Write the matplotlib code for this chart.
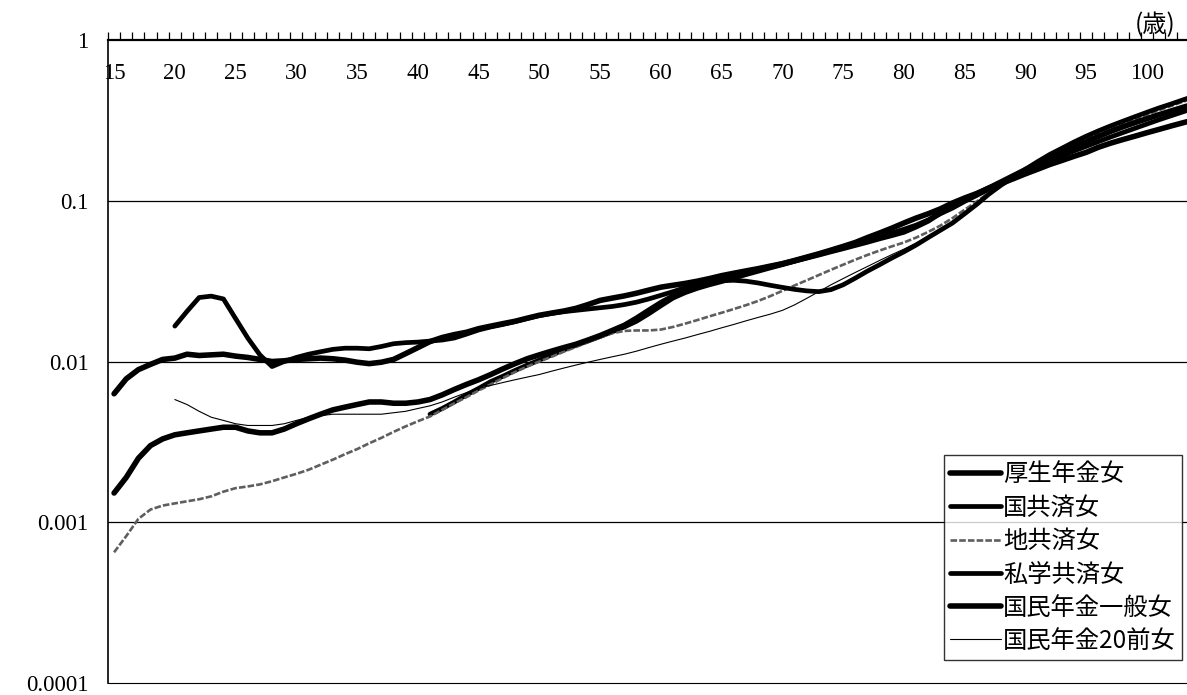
import numpy as np
import matplotlib
matplotlib.use("Agg")
import matplotlib.pyplot as plt
from matplotlib.ticker import FixedLocator, NullFormatter

plt.rcParams['font.family'] = ['Liberation Serif', 'Noto Sans CJK JP']

ages = list(range(15, 105))

# 厚生年金女 (15-104)
kosei = [.0063, .0078, .0089, .0096, .0103, .0105, .0111, .0109, .0110, .0111,
         .0108, .0106, .0103, .0100, .0101, .0103, .0104, .0105, .0104, .0102,
         .0099, .0097, .0099, .0103, .0112, .0122, .0133, .0141, .0147, .0152,
         .0160, .0166, .0172, .0178, .0186, .0194, .0200, .0206, .0214, .0226,
         .0240, .0248, .0256, .0266, .0278, .0290, .0298, .0306, .0316, .0328,
         .0342, .0354, .0366, .0378, .0392, .0406, .0425, .0446, .0468, .0493,
         .0520, .0550, .0590, .0630, .0675, .0727, .0780, .0830, .0890, .0968,
         .104, .111, .120, .128, .137, .147, .157, .168, .178, .189,
         .200, .215, .228, .240, .252, .265, .278, .292, .306, .320]

# 国共済女 (41-104)
kokukyo = [None] * 26 + [
         .0047, .0051, .0056, .0062,
         .0068, .0075, .0081, .0088, .0095, .0102, .0110, .0118, .0126, .0134,
         .0143, .0153, .0164, .0178, .0198, .0222, .0248, .0268, .0285, .0300,
         .0314, .0330, .0347, .0364, .0382, .0400, .0420, .0441, .0463, .0486,
         .0510, .0537, .0565, .0595, .0630, .0665, .0705, .0760, .0830, .0900,
         .099, .108, .118, .129, .140, .152, .164, .177, .190, .204,
         .218, .233, .249, .265, .282, .300, .319, .338, .358, .379]

# 地共済女 (15-104)
chikyo = [.00065, .00082, .00105, .00120, .00127, .00131, .00135, .00139, .00145, .00155,
          .00163, .00167, .00172, .00180, .00190, .00200, .00212, .00228, .00245, .00265,
          .00285, .00310, .00335, .00365, .00395, .00425, .00455, .0050, .0055, .0060,
          .0066, .0072, .0079, .0086, .0093, .0100, .0107, .0115, .0123, .0132,
          .0141, .0150, .0155, .0156, .0156, .0158, .0164, .0172, .0181, .0191,
          .0201, .0212, .0224, .0238, .0255, .0275, .0297, .0320, .0345, .0372,
          .0400, .0430, .0460, .0490, .0520, .0550, .0590, .0640, .0700, .0780,
          .088, .099, .112, .125, .139, .154, .170, .187, .204, .222,
          .241, .260, .280, .300, .321, .343, .366, .389, .414, .439]

# 私学共済女 (20-104)
shigaku = [None] * 5 + [
           .0166, .0205, .0250, .0255, .0245,
           .0185, .0140, .0110, .0093, .0100, .0106, .0111, .0115, .0119, .0121,
           .0121, .0120, .0124, .0129, .0131, .0132, .0134, .0136, .0140, .0148,
           .0157, .0164, .0170, .0177, .0185, .0193, .0199, .0204, .0208, .0212,
           .0216, .0220, .0226, .0234, .0245, .0258, .0272, .0288, .0302, .0312,
           .0318, .0320, .0316, .0308, .0298, .0289, .0281, .0275, .0272, .0280,
           .0300, .0330, .0365, .0400, .0440, .0481, .0530, .0590, .0655, .0727,
           .083, .095, .110, .125, .140, .157, .175, .194, .212, .232,
           .252, .272, .292, .312, .333, .355, .378, .400, .425, .450]

# 国民年金一般女 (15-104)
kokumin = [.00152, .0019, .0025, .0030, .0033, .0035, .0036, .0037, .0038, .0039,
           .0039, .0037, .0036, .0036, .0038, .0041, .0044, .0047, .0050, .0052,
           .0054, .0056, .0056, .0055, .0055, .0056, .0058, .0062, .0067, .0072,
           .0077, .0083, .0090, .0097, .0104, .0110, .0116, .0122, .0128, .0136,
           .0145, .0156, .0168, .0186, .0208, .0232, .0255, .0275, .0292, .0308,
           .0324, .0340, .0356, .0372, .0388, .0405, .0423, .0442, .0462, .0484,
           .0506, .0530, .0555, .0583, .0610, .0640, .0690, .0750, .0840, .0930,
           .101, .110, .120, .131, .143, .156, .170, .185, .200, .216,
           .233, .251, .270, .288, .306, .324, .343, .362, .382, .402]

# 国民年金20前女 (20-104)
kokumin20 = [None] * 5 + [
             .0058, .0054, .0049, .0045, .0043,
             .0041, .0040, .0040, .0040, .0041, .0043, .0045, .0046, .0047, .0047,
             .0047, .0047, .0047, .0048, .0049, .0051, .0053, .0056, .0060, .0064,
             .0068, .0071, .0074, .0077, .0080, .0083, .0087, .0091, .0095, .0099,
             .0103, .0107, .0111, .0116, .0122, .0128, .0134, .0140, .0147, .0154,
             .0162, .0170, .0179, .0188, .0197, .0208, .0225, .0247, .0272, .0300,
             .0328, .0358, .0390, .0425, .0462, .0500, .0545, .0600, .0660, .0740,
             .084, .096, .110, .124, .139, .155, .172, .190, .208, .227,
             .247, .267, .288, .309, .331, .354, .378, .402, .428, .454]

series = [
    ("厚生年金女", kosei, "black", 4.0, '-'),
    ("国共済女", kokukyo, "black", 3.4, '-'),
    ("地共済女", chikyo, "#5e5e5e", 1.9, (0, (2.5, 0.8))),
    ("私学共済女", shigaku, "black", 3.4, '-'),
    ("国民年金一般女", kokumin, "black", 4.0, '-'),
    ("国民年金20前女", kokumin20, "black", 0.8, '-'),
]

fig = plt.figure(figsize=(11.87, 6.95), dpi=100)
ax = fig.add_axes([108 / 1187, 1 - 683 / 695, (1187 - 108) / 1187, (683 - 40) / 695])

for name, vals, color, lw, ls in series:
    y = np.array([np.nan if v is None else v for v in vals], dtype=float)
    ax.plot(ages, y, color=color, lw=lw, ls=ls, label=name, solid_capstyle='round',
            solid_joinstyle='round')

ax.set_yscale('log')
ax.set_ylim(0.0001, 1)
ax.set_xlim(14.5, 103.3)

# horizontal rules at each decade
for v in [0.1, 0.01, 0.001]:
    ax.axhline(v, color='black', lw=0.9, zorder=0)

ax.set_yticks([1, 0.1, 0.01, 0.001, 0.0001])
ax.set_yticklabels(['1', '0.1', '0.01', '0.001', '0.0001'], fontsize=16.5)
ax.yaxis.set_minor_locator(FixedLocator([]))
ax.tick_params(axis='y', length=0, pad=14)

# category boundaries as ticks along the top edge
ax.xaxis.set_major_locator(FixedLocator([]))
ax.xaxis.set_minor_locator(FixedLocator(np.arange(14.5, 104, 1)))
ax.xaxis.set_minor_formatter(NullFormatter())
ax.tick_params(axis='x', which='minor', top=True, bottom=False, direction='out',
               length=6, width=0.9, color='black')
for a in range(15, 101, 5):
    ax.text(a, 0.62, str(a), ha='center', va='center', fontsize=16.5)

ax.spines['right'].set_visible(False)
ax.spines['top'].set_linewidth(1.6)
ax.spines['left'].set_linewidth(1.2)
ax.spines['bottom'].set_linewidth(0.8)

fig.text(1155 / 1187, 1 - 25 / 695, "(歳)", ha='center', va='center', fontsize=17.5,
         family=['Noto Sans CJK JP', 'DejaVu Sans'])

leg = ax.legend(loc='lower right', bbox_to_anchor=(1182 / 1187, 1 - 660 / 695),
                bbox_transform=fig.transFigure, frameon=True, fancybox=False,
                edgecolor='black', handlelength=2.1, handletextpad=0.1,
                labelspacing=0.3, borderpad=0.25, borderaxespad=0,
                prop={'family': ['Noto Sans CJK JP', 'DejaVu Sans'], 'size': 17.5})
leg.get_frame().set_linewidth(1.0)

fig.savefig('out.png', dpi=100)
